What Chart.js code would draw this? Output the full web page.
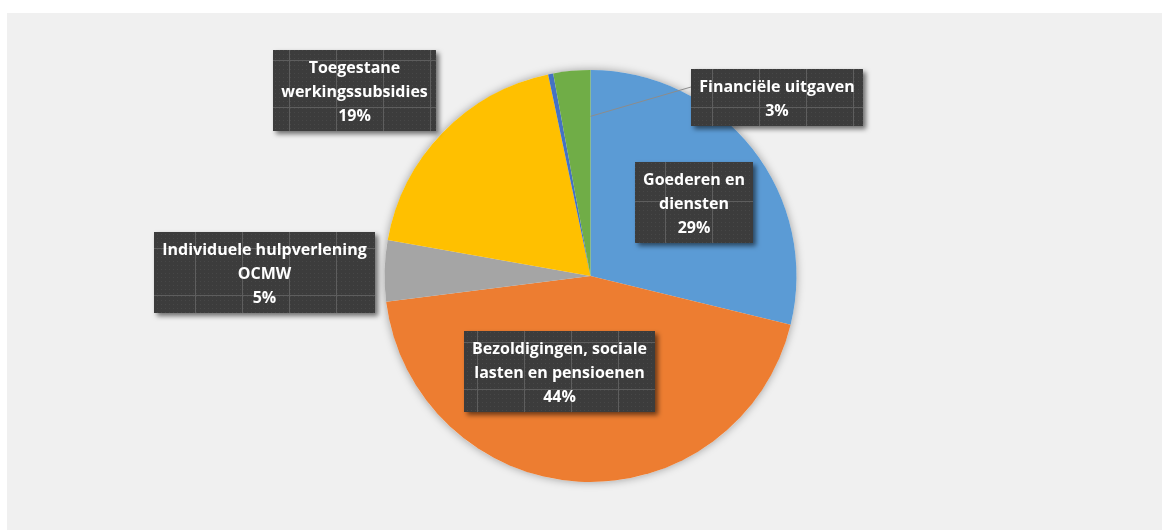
<!DOCTYPE html>
<html>
<head>
<meta charset="utf-8">
<script src="https://cdn.jsdelivr.net/npm/chart.js@4"></script>
<style>
  html, body { margin: 0; padding: 0; background: #ffffff; }
  #wrap { position: absolute; left: 7px; top: 13px; width: 1155px; height: 517px; background: #f0f0f0; }
</style>
</head>
<body>
<div id="wrap"><canvas id="pieChart"></canvas></div>
<script>
// categorieën en waarden (in procent)
var categories = ['Goederen en diensten', 'Bezoldigingen, sociale lasten en pensioenen', 'Individuele hulpverlening OCMW', 'Toegestane werkingssubsidies', 'Overige', 'Financiële uitgaven'];
var values = [28.8, 44.2, 4.8, 18.9, 0.4, 2.9];
var sliceColors = ['#5b9bd5', '#ed7d31', '#a5a5a5', '#ffc000', '#4472c4', '#70ad47'];

// regels per label (null = geen label)
var labelLines = [
    ['Goederen en', 'diensten'],
    ['Bezoldigingen, sociale', 'lasten en pensioenen'],
    ['Individuele hulpverlening', 'OCMW'],
    ['Toegestane', 'werkingssubsidies'],
    null,
    ['Financiële uitgaven']
];
// plaats van het label t.o.v. het middelpunt van de taart
var labelOffsets = [[103, -74], [-31.5, 95], [-326.5, -4], [-236.5, -186], null, [186, -178.5]];
var leaderLines = [false, false, false, false, false, true];

document.addEventListener('DOMContentLoaded', function () {
    var ctx = document.getElementById('pieChart');
    var total = values.reduce(function (a, b) { return a + b; }, 0);

    // donkere textuur voor de labelvakken
    function makePattern(c) {
        var t = document.createElement('canvas');
        t.width = 47; t.height = 47;
        var g = t.getContext('2d');
        g.fillStyle = '#3c3c3c';
        g.fillRect(0, 0, 47, 47);
        g.fillStyle = '#474747';
        for (var y = 1; y < 47; y += 4) {
            for (var x = 1; x < 47; x += 4) {
                g.fillRect(x, y, 1, 1);
            }
        }
        g.fillStyle = '#5e5e5e';
        g.fillRect(0, 0, 47, 1);
        g.fillRect(0, 0, 1, 47);
        return c.createPattern(t, 'repeat');
    }

    var pieShadow = {
        id: 'pieShadow',
        beforeDatasetsDraw: function (chart) {
            var arc = chart.getDatasetMeta(0).data[0];
            if (!arc) return;
            var c = chart.ctx;
            c.save();
            c.shadowColor = 'rgba(0,0,0,0.35)';
            c.shadowBlur = 9;
            c.fillStyle = '#f0f0f0';
            c.beginPath();
            c.arc(arc.x, arc.y, arc.outerRadius, 0, Math.PI * 2);
            c.fill();
            c.restore();
        }
    };

    var boxLabels = {
        id: 'boxLabels',
        afterDatasetsDraw: function (chart) {
            var c = chart.ctx;
            var meta = chart.getDatasetMeta(0);
            var pattern = makePattern(c);
            c.save();
            c.font = 'bold 16px "Open Sans"';
            meta.data.forEach(function (arc, i) {
                if (!labelLines[i]) return;
                var lines = labelLines[i].concat([Math.round(values[i] / total * 100) + '%']);
                var w = 0;
                lines.forEach(function (l) { w = Math.max(w, c.measureText(l).width); });
                var bw = Math.round(w + 16);
                var bh = lines.length * 24 + 9;
                var cx = arc.x + labelOffsets[i][0];
                var cy = arc.y + labelOffsets[i][1];
                var left = Math.round(cx - bw / 2);
                var top = Math.round(cy - bh / 2);

                if (leaderLines[i]) {
                    var ang = arc.endAngle;
                    var r = arc.outerRadius * 0.775;
                    c.strokeStyle = '#8c8c8c';
                    c.lineWidth = 1;
                    c.beginPath();
                    c.moveTo(left, top + 18);
                    c.lineTo(arc.x + Math.cos(ang) * r, arc.y + Math.sin(ang) * r);
                    c.stroke();
                }

                c.save();
                c.shadowColor = 'rgba(0,0,0,0.55)';
                c.shadowBlur = 5;
                c.shadowOffsetX = 3;
                c.shadowOffsetY = 3;
                c.fillStyle = pattern;
                c.fillRect(left, top, bw, bh);
                c.restore();

                c.fillStyle = '#ffffff';
                c.textAlign = 'center';
                c.textBaseline = 'middle';
                lines.forEach(function (l, k) {
                    c.fillText(l, left + bw / 2, top + 18 + k * 24);
                });
            });
            c.restore();
        }
    };

    new Chart(ctx, {
        type: 'pie',
        data: {
            labels: categories,
            datasets: [{
                data: values,
                backgroundColor: sliceColors,
                borderWidth: 0,
                hoverOffset: 0
            }]
        },
        options: {
            responsive: true,
            maintainAspectRatio: false,
            animation: false,
            events: [],
            layout: { padding: { left: 12, right: 0, top: 57, bottom: 48 } },
            plugins: {
                legend: { display: false },
                tooltip: { enabled: false }
            }
        },
        plugins: [pieShadow, boxLabels]
    });
});
</script>
</body>
</html>
